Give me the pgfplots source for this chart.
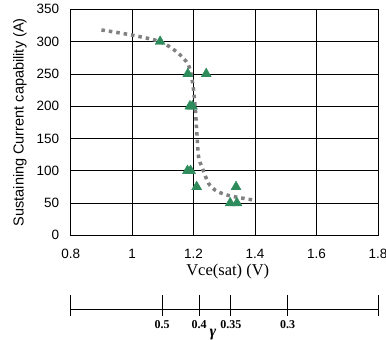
\documentclass[border=0pt]{standalone}
\usepackage{pgfplots}
\pgfplotsset{compat=1.18}
\usepackage{fontspec}
\setmainfont{Liberation Sans}
\newfontfamily\serif{Liberation Serif}
\definecolor{trigreen}{RGB}{46,140,92}
\definecolor{dotgray}{RGB}{128,128,128}
\begin{document}
\begin{tikzpicture}[x=1pt,y=1pt]
\useasboundingbox (0,0) rectangle (386,-340);
\begin{axis}[
  at={(70.7pt,-235.3pt)}, anchor=south west,
  scale only axis, width=307.3pt, height=226pt,
  xmin=0.8, xmax=1.8, ymin=0, ymax=350,
  xtick={0.8,1,1.2,1.4,1.6,1.8}, ytick={0,50,...,350},
  xticklabels={0.8,1,1.2,1.4,1.6,1.8},
  /pgf/number format/assume math mode=true,
  grid=major, grid style={black, line width=0.7pt},
  axis line style={black, line width=1pt},
  tick style={draw=none},
  ticklabel style={font=\fontsize{13.5}{15}\selectfont},
  yticklabel style={xshift=-8pt},
  xticklabel style={yshift=-10pt},
  ylabel={Sustaining Current capability (A)},
  ylabel style={at={(axis description cs:-0.165,0.5)}, anchor=center, font=\fontsize{14.5}{16}\selectfont},
  xlabel={Vce(sat) (V)},
  xlabel style={at={(axis description cs:0.511,-0.161)}, anchor=center, font=\serif\fontsize{16.5}{18}\selectfont},
]
\addplot[dotgray, line width=3.5pt, dash pattern=on 3.5pt off 4pt, smooth, tension=0.5] coordinates {
(0.90,318)(1.00,310)(1.09,300)(1.145,284)(1.183,264)(1.197,235)(1.205,199)(1.21,163)(1.216,122)(1.227,106)(1.248,81)(1.27,70)(1.297,64)(1.33,60)(1.39,55)
};
\addplot[only marks, mark=triangle*, mark size=5.8pt, color=trigreen] coordinates {
(1.091,300)(1.181,250)(1.241,250)(1.188,200)(1.196,200)(1.18,100)(1.19,100)(1.21,75)(1.338,75)(1.319,50)(1.341,50)
};
\end{axis}
\begin{axis}[
  at={(70.7pt,-309pt)}, anchor=south west,
  scale only axis, width=308pt, height=10pt,
  xmin=0.8, xmax=1.8, ymin=0, ymax=1,
  axis x line=bottom, axis y line=none,
  x axis line style={-, line width=1pt, black},
  xtick={0.8,1.097,1.217,1.32,1.504,1.8},
  xticklabels={,0.5,0.4,0.35,0.3,},
  tick align=center, major tick length=21pt,
  xtick style={line width=1pt, black, yshift=3.5pt},
  xticklabel style={yshift=3pt, font=\serif\bfseries\fontsize{12}{13}\selectfont},
  xlabel={γ},
  xlabel style={at={(axis description cs:0.462,0)}, anchor=center, yshift=-25.5pt, font=\serif\bfseries\itshape\fontsize{16}{16}\selectfont},
]
\addplot[draw=none] coordinates {(0.8,0)(1.8,0)};
\end{axis}
\end{tikzpicture}
\end{document}
